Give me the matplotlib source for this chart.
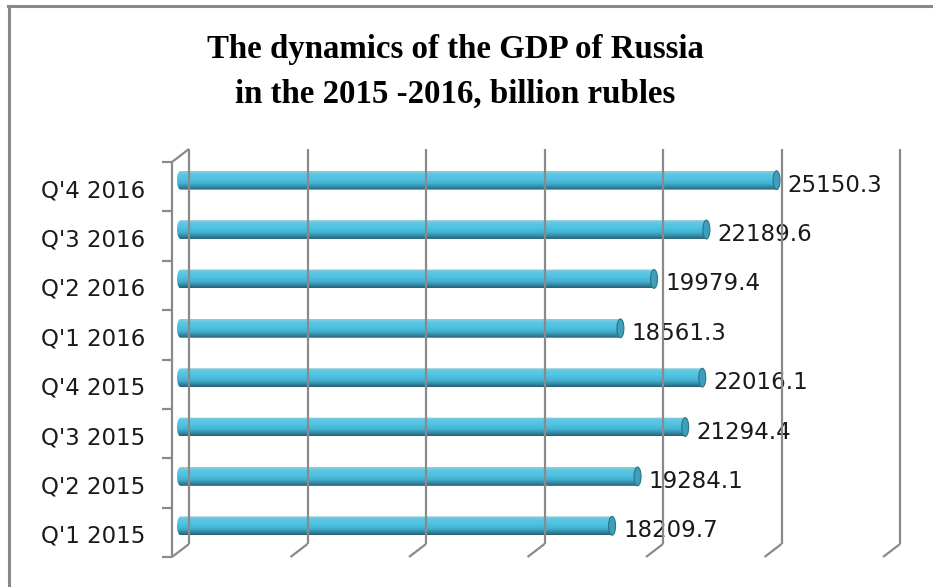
import numpy as np
import matplotlib
matplotlib.use("Agg")
import matplotlib.pyplot as plt
from matplotlib.colors import LinearSegmentedColormap
from matplotlib.lines import Line2D
from matplotlib.patches import Ellipse, PathPatch
from matplotlib.path import Path
from matplotlib.transforms import IdentityTransform, offset_copy

# GDP by quarter, bottom to top
quarters = ["Q'1 2015", "Q'2 2015", "Q'3 2015", "Q'4 2015",
            "Q'1 2016", "Q'2 2016", "Q'3 2016", "Q'4 2016"]
gdp = [18209.7, 19284.1, 21294.4, 22016.1, 18561.3, 19979.4, 22189.6, 25150.3]
grid_ticks = [0, 5000, 10000, 15000, 20000, 25000, 30000]

title = "The dynamics of the GDP of Russia\nin the 2015 -2016, billion rubles"

DEPTH_X, DEPTH_Y = 8.5, 6.5   # half depth of the 3d box, pixels
GRID = "#8a8a8a"
BAR_H = 0.38

fig = plt.figure(figsize=(9.33, 5.87), dpi=100)
ax = fig.add_axes([180.5 / 933, 36.5 / 587, 711 / 933, 395 / 587])
ax.set_xlim(0, 30000)
ax.set_ylim(-0.5, len(quarters) - 0.5)
ax.axis("off")

y_lo, y_hi = -0.5, len(quarters) - 0.5


def px(x, y):
    return ax.transData.transform((x, y))


def seg(p0, p1, **kw):
    fig.add_artist(Line2D([p0[0], p1[0]], [p0[1], p1[1]], transform=IdentityTransform(),
                          color=GRID, lw=1.6, solid_capstyle="butt", zorder=1, **kw))


# back wall gridlines with the slanted floor part
for v in grid_ticks:
    top = px(v, y_hi) + (DEPTH_X, DEPTH_Y)
    bot = px(v, y_lo) + (DEPTH_X, DEPTH_Y)
    front = px(v, y_lo) - (DEPTH_X, DEPTH_Y)
    seg(top, bot)
    seg(bot, front)

# front category axis
ax_top = px(0, y_hi) - (DEPTH_X, DEPTH_Y)
ax_bot = px(0, y_lo) - (DEPTH_X, DEPTH_Y)
seg(ax_top, ax_bot)
seg(px(0, y_hi) + (DEPTH_X, DEPTH_Y), ax_top)
for k in range(len(quarters) + 1):
    p = px(0, k - 0.5) - (DEPTH_X, DEPTH_Y)
    seg(p, p - (10, 0))

# cylinder bars
cyl = LinearSegmentedColormap.from_list("cyl", [
    (0.0, "#285f6f"), (0.12, "#2f809a"), (0.35, "#44b2d2"),
    (0.6, "#50c2e2"), (0.82, "#5ac7e4"), (1.0, "#8ccbdb")])
grad = np.linspace(0, 1, 64).reshape(-1, 1)
px_per_unit = (px(1000, 0)[0] - px(0, 0)[0]) / 1000
cap_w = 7 / px_per_unit

bars = ax.barh(range(len(quarters)), gdp, height=BAR_H, color="#4bb9d8", zorder=3)
for rect in bars:
    x0, w = rect.get_x(), rect.get_width()
    y0, h = rect.get_y(), rect.get_height()
    yc = y0 + h / 2
    t = np.linspace(np.pi / 2, 3 * np.pi / 2, 30)
    left = np.column_stack([x0 + cap_w / 2 * np.cos(t), yc + h / 2 * np.sin(t)])
    verts = np.vstack([left, [[x0 + w, y0]], [[x0 + w, y0 + h]], left[:1]])
    outline = PathPatch(Path(verts, closed=True), transform=ax.transData,
                        facecolor="none", edgecolor="none")
    ax.add_patch(outline)
    rect.set_visible(False)
    img = ax.imshow(grad, extent=(x0 - cap_w / 2, x0 + w, y0, y0 + h), origin="lower",
                    aspect="auto", cmap=cyl, zorder=3, interpolation="bilinear")
    img.set_clip_box(fig.bbox)
    img.set_clip_path(outline)
    ax.add_patch(Ellipse((x0 + w, yc), cap_w, h, facecolor="#3d9fbb",
                         edgecolor="#2c7488", lw=0.8, zorder=4))

ax.set_xlim(0, 30000)
ax.set_ylim(y_lo, y_hi)

# category and value labels
lab_tr = offset_copy(ax.transData, fig=fig, x=-DEPTH_X - 27, y=-DEPTH_Y - 4, units="dots")
val_tr = offset_copy(ax.transData, fig=fig, x=11, y=-5, units="dots")
for i, (q, v) in enumerate(zip(quarters, gdp)):
    ax.text(0, i, q, transform=lab_tr, ha="right", va="center",
            fontsize=16.5, family="DejaVu Sans", color="#1a1a1a", clip_on=False)
    ax.text(v, i, f"{v:.1f}", transform=val_tr, ha="left", va="center",
            fontsize=16.5, family="DejaVu Sans", color="#1a1a1a", zorder=5, clip_on=False)

fig.text(455 / 933, 1 - 72 / 587, title, ha="center", va="center", fontsize=23.7,
         family="Liberation Serif", fontweight="bold", linespacing=1.55)

# chart frame
fig.add_artist(Line2D([8 / 933, 1], [1 - 6 / 587] * 2, color="#888888", lw=2.2))
fig.add_artist(Line2D([9 / 933] * 2, [0, 1 - 6 / 587], color="#888888", lw=2.2))

fig.savefig("out.png", dpi=100)
